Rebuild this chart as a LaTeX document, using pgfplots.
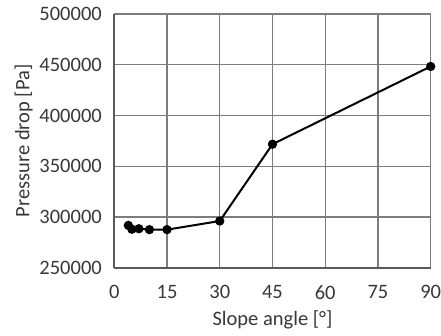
\documentclass[border=0pt]{standalone}
\usepackage{fontspec}
\setmainfont{Carlito}
\usepackage{pgfplots}
\pgfplotsset{compat=1.18}
\definecolor{gridc}{RGB}{125,125,125}
\definecolor{axc}{RGB}{90,90,90}
\begin{document}
\begin{tikzpicture}
\begin{axis}[
  name=ax,
  scale only axis, width=316.4bp, height=253.7bp,
  xmin=0, xmax=90, ymin=250000, ymax=500000,
  xtick={0,15,30,45,60,75,90},
  ytick={250000,300000,350000,400000,450000,500000},
  scaled y ticks=false,
  /pgf/number format/assume math mode=true,
  yticklabel={\pgfmathprintnumber[fixed,precision=0,1000 sep={}]{\tick}},
  xticklabel={\pgfmathprintnumber[fixed,precision=0]{\tick}},
  tick label style={font=\fontsize{20.5bp}{24bp}\selectfont, text=black!78},
  label style={font=\fontsize{20.5bp}{24bp}\selectfont, text=black!78},
  yticklabel style={xshift=-9bp},
  xticklabel style={yshift=-14bp},
  major tick length=0pt,
  grid=major,
  major grid style={draw=gridc, line width=1.4bp},
  axis x line*=bottom, axis y line*=left,
  axis line style={-, draw=axc, line width=1.8bp},
  xlabel={Slope angle [°]},
  ylabel={Pressure drop [Pa]},
  xlabel style={yshift=-5bp},
  ylabel style={yshift=0bp},
  clip=false,
]
\addplot[black, line width=2bp, mark=*, mark size=3.6bp, mark options={fill=black}]
coordinates {
(4,291700) (5,287900) (7,288400) (10,287500) (15,287500) (30,296000) (45,371700) (90,448300)
};
\end{axis}
\pgfresetboundingbox
\path (ax.south west) ++(-114.3bp,-68.3bp) rectangle ++(441bp,336bp);
\end{tikzpicture}
\end{document}
